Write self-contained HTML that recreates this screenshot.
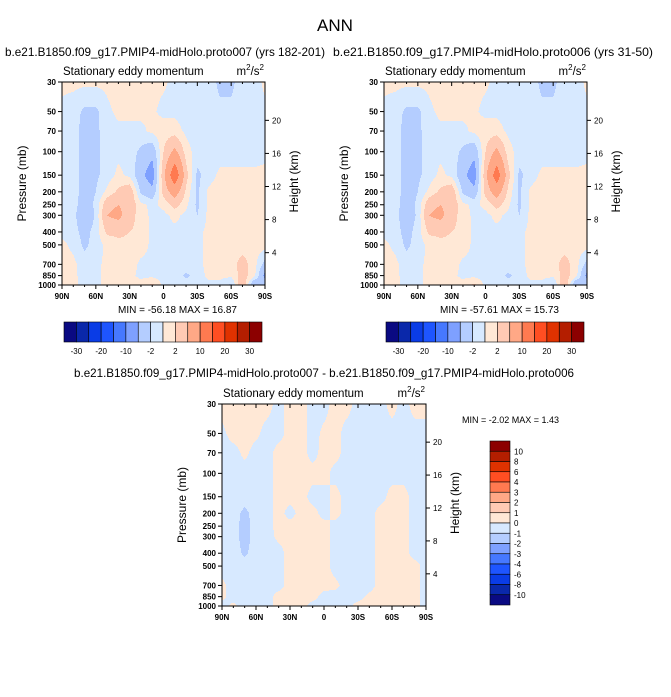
<!DOCTYPE html>
<html><head><meta charset="utf-8">
<style>
body{margin:0;background:#fff;font-family:"Liberation Sans",sans-serif;}
svg text{font-family:"Liberation Sans",sans-serif;fill:#000;}
</style></head>
<body>
<svg id="fig" width="671" height="692" viewBox="0 0 671 692" xmlns="http://www.w3.org/2000/svg">
<rect width="671" height="692" fill="#fff"/>
<text x="335" y="31" font-size="17" text-anchor="middle">ANN</text>
</svg>
<script>
// ---- data ----
const lats = ["90N","80N","70N","60N","50N","40N","30N","20N","10N","0","10S","20S","30S","40S","50S","60S","70S","80S","90S"];
const levels = [30,50,70,100,150,200,250,300,400,500,700,850,1000];
const pTicks = [30,50,70,100,150,200,250,300,400,500,700,850,1000];
const hTicks = [20,16,12,8,4];
const xTickLabels = ["90N","60N","30N","0","30S","60S","90S"];
const topLevels = [-30,-25,-20,-15,-10,-5,-2,0,2,5,10,15,20,25,30];
const topLabels = ["-30","-20","-10","-2","2","10","20","30"];
const diffLevels = [-10,-8,-6,-4,-3,-2,-1,0,1,2,3,4,6,8,10];
const diffLabels = ["10","8","6","4","3","2","1","0","-1","-2","-3","-4","-6","-8","-10"];
const colors = ["#0a0a82","#0a28aa","#0a3ce6","#1e55ff","#4678ff","#7ea0ff","#b4cdff","#d7e9ff","#ffe8d6","#ffcab4","#ffa886","#ff7a50","#ff4e22","#e03200","#b41e00","#8c0000"];

const field1 = [
[0.5,0.5,0.5,0.5,0.5,1,1,0.8,0.5,0.3,-0.5,-1,-1,-1,-2.5,-2.5,-1,-1,0.5],
[-0.5,-1,-2.5,-2.5,-0.5,0.5,0.5,0.5,0.3,-0.5,-0.5,-1,-1,-1,-1.5,-1.5,-1,-1,-0.5],
[-0.5,-1,-3,-2.5,-1,-0.5,-0.5,-0.5,0.5,1,1,-0.5,-1,-1,-1,-1,-1,-1,-0.5],
[-0.5,-1,-3,-2.5,-1,-0.5,-1,-2.5,-4,2,6,1,-1,-1,-1,-1,-1,-1,-0.5],
[-0.5,-1,-3,-2.5,-1,0.5,-0.5,-4,-7,4,14,3,-2.5,-1,0.5,0.5,0.5,0.5,0.5],
[-0.5,-1,-3,-2,0.5,2.5,4,-2.5,-4,3,7,1.5,-2.5,0.5,1,1,1,1,1],
[-0.5,-1,-3.5,-1.5,4,5,4,0.5,-0.5,0.5,3,0.5,-2.5,0.5,1,1,1,1,1],
[-0.5,-1,-5,-1.5,5,6,3,1,-0.5,-0.5,0.5,-0.5,-2,0.5,1,1,1,1,1],
[-0.5,-1,-3,-1,2.5,2.5,2,1.5,-0.5,-0.5,-0.5,-0.5,-0.5,0.5,0.5,1,1,1,1],
[0.5,-0.5,-2.5,-1,0.5,1.5,1.5,1,-0.5,-0.5,-0.5,-0.5,-0.5,0.5,0.5,1,1,1,1],
[0.8,0.5,-1,-0.5,0.5,1,1,-0.5,-0.5,-1,-0.5,-0.5,-0.5,0.5,0.5,1,3,1,-3],
[0.5,0.3,-0.5,-0.5,0.5,1,0.5,-0.5,-0.5,-1,-0.5,-2.5,-1,0.5,0.5,0.5,3,1,-6],
[0.5,0.3,-0.5,-0.5,0.5,1.5,1,0.8,2.5,-0.5,-0.5,-1,-1,-0.5,-0.5,-2.5,5,-5,-3]];

const field2 = [
[0.5,0.5,0.5,0.5,0.5,1,1,0.8,0.5,0.3,-0.5,-1,-1,-1,-2.5,-2.5,-1,-1,0.5],
[-0.5,-1,-2.5,-2.5,-0.5,0.5,0.5,0.5,0.3,-0.5,-0.5,-1,-1,-1,-1.5,-1.5,-1,-1,-0.5],
[-0.5,-1,-3,-2.5,-1,-0.5,-0.5,-0.5,0.5,1,1,-0.5,-1,-1,-1,-1,-1,-1,-0.5],
[-0.5,-1,-3,-2.5,-1,-0.5,-1,-2.5,-4,2,6,1,-1,-1,-1,-1,-1,-1,-0.5],
[-0.5,-1,-3,-2.5,-1,0.5,-0.5,-4,-7,4,13,3,-2.5,-1,0.5,0.5,0.5,0.5,0.5],
[-0.5,-1,-3,-2,0.5,2.5,4,-2.5,-4,3,7,1.5,-2.5,0.5,1,1,1,1,1],
[-0.5,-1,-3.5,-1.5,4,5,4,0.5,-0.5,0.5,3,0.5,-2.5,0.5,1,1,1,1,1],
[-0.5,-1,-4,-1.5,5,6,3,1,-0.5,-0.5,0.5,-0.5,-2,0.5,1,1,1,1,1],
[-0.5,-1,-3,-1,2.5,2.5,2,1.5,-0.5,-0.5,-0.5,-0.5,-0.5,0.5,0.5,1,1,1,1],
[0.5,-0.5,-2.5,-1,0.5,1.5,1.5,1,-0.5,-0.5,-0.5,-0.5,-0.5,0.5,0.5,1,1,1,1],
[0.8,0.5,-1,-0.5,0.5,1,1,-0.5,-0.5,-1,-0.5,-0.5,-0.5,0.5,0.5,1,3,1,-3],
[0.5,0.3,-0.5,-0.5,0.5,1,0.5,-0.5,-0.5,-1,-0.5,-2.5,-1,0.5,0.5,0.5,3,1,-6],
[0.5,0.3,-0.5,-0.5,0.5,1.5,1,0.8,2.5,-0.5,-0.5,-1,-1,-0.5,-0.5,-2.5,5,-5,-3]];

const fieldDiff = [
[.5,.5,.5,.5,.5,-.5,.5,.5,-.5,-.5,.5,.5,-.5,-.5,-.5,.5,-.5,.5,.5],
[-.3,.5,.5,.3,-.5,-.5,.5,.5,-.5,.3,.5,-.5,-.5,-.5,-.5,-.5,-.5,-.5,-.5],
[-.5,-.5,.3,-.5,-.5,.5,.5,.5,-.5,.5,.5,-.5,-.5,-.5,-.5,-.5,-.5,-.5,-.5],
[-.5,-.5,-.5,-.5,-.5,.5,.5,.5,.5,.5,-.5,-.5,-.5,-.5,-.5,-.5,-.5,-.5,-.5],
[-.5,-.5,-.5,-.5,-.5,.5,.5,.5,-.5,-.5,.5,-.5,-.5,-.5,-.5,.5,.5,-.5,-.5],
[-.5,-.5,-1.3,-.5,-.5,.5,-.5,.5,.5,-.5,.5,-.5,-.5,-.5,.5,.5,.5,-.5,-.5],
[-.5,-.5,-1.5,-.5,-.5,.5,.5,.5,.5,.5,-.5,-.5,-.5,-.5,.5,.5,.5,-.5,-.5],
[-.5,-.5,-1.5,-.5,-.5,.3,.5,.5,.5,.5,-.5,-.5,-.5,-.5,.5,.5,.5,-.5,-.5],
[-.5,-.5,-1.2,-.5,-.5,-.5,.5,.5,.5,.5,-.5,-.5,-.5,-.5,.5,.5,.5,-.5,-.5],
[-.5,-.5,-.5,-.5,-.5,-.5,.5,.5,.5,.5,-.5,-.5,-.5,-.5,.5,.5,.5,.5,-.5],
[.3,-.5,-.5,-.5,-.5,-.5,.5,.5,.5,.5,.3,-.5,-.5,-.5,.5,.5,.5,.5,-.5],
[.3,-.5,-.5,-.5,-.5,.5,.5,.5,.5,-.5,-.5,-.5,-.5,.3,.5,.5,.5,.5,-.5],
[-.5,.3,-.5,-.5,-.5,.5,.5,.5,-.5,-.5,-.5,-.5,.5,.5,.5,.5,.5,.5,-.5]];

// ---- drawing ----
const NS="http://www.w3.org/2000/svg";
const svg=document.getElementById('fig');
function mk(tag,attrs,parent){const e=document.createElementNS(NS,tag);for(const k in attrs)e.setAttribute(k,attrs[k]);(parent||svg).appendChild(e);return e;}
function txt(s,attrs,parent){const e=mk('text',attrs,parent);e.textContent=s;return e;}
function colorIdx(v,lv){let i=0;while(i<lv.length&&v>=lv[i])i++;return i;}

function panel(x0,y0,w,h,field,lv,name){
  const g=mk('g',{});
  
  
  const lp0=Math.log(30),lp1=Math.log(1000);
  const yOf=p=>y0+h*(Math.log(p)-lp0)/(lp1-lp0);
  const levY=levels.map(yOf);
  const step=1;
  for(let py=0;py<h;py+=step){
    const yy=y0+py+step/2;
    let k=0;while(k<levY.length-2&&yy>levY[k+1])k++;
    const t=Math.min(1,Math.max(0,(yy-levY[k])/(levY[k+1]-levY[k])));
    let runStart=0,runC=-1;
    for(let px=0;px<=w;px++){
      let c=-2;
      if(px<w){
        const fi=(px+0.5)/w*(lats.length-1);
        const i=Math.min(lats.length-2,Math.floor(fi));const s=fi-i;
        const a=field[k][i]*(1-s)+field[k][i+1]*s;
        const b=field[k+1][i]*(1-s)+field[k+1][i+1]*s;
        c=colorIdx(a*(1-t)+b*t,lv);
      }
      if(c!==runC){
        if(runC>=0){
          const r=mk('rect',{x:x0+runStart,y:y0+py,width:px-runStart+0.3,height:step+0.3,fill:colors[runC]},g);
          
          
        }
        runStart=px;runC=c;
      }
    }
  }
  const ax=mk('g',{stroke:'#000','stroke-width':1,fill:'none'});
  
  
  mk('rect',{x:x0,y:y0,width:w,height:h},ax);
  pTicks.forEach(p=>{const y=yOf(p);mk('line',{x1:x0-4,y1:y,x2:x0,y2:y},ax);
    const t=txt(String(p),{x:x0-6,y:y+3,'font-size':8,'text-anchor':'end','font-weight':'bold'});
    });
  hTicks.forEach(hk=>{const p=1013*Math.exp(-hk/7);const y=yOf(p);mk('line',{x1:x0+w,y1:y,x2:x0+w+4,y2:y},ax);
    const t=txt(String(hk),{x:x0+w+7,y:y+3,'font-size':8});
    });
  for(let i=0;i<=18;i++){const x=x0+w*i/18;const major=i%3===0;
    mk('line',{x1:x,y1:y0+h,x2:x,y2:y0+h+(major?4:2)},ax);mk('line',{x1:x,y1:y0,x2:x,y2:y0+(major?4:2)},ax);}
  xTickLabels.forEach((l,i)=>{const t=txt(l,{x:x0+w*i/6,y:y0+h+14,'font-size':8,'text-anchor':'middle','font-weight':'bold'});
    });
  let t=txt('Pressure (mb)',{x:0,y:0,'font-size':12,'text-anchor':'middle',transform:`translate(${x0-36},${y0+h/2}) rotate(-90)`});
  
  t=txt('Height (km)',{x:0,y:0,'font-size':12,'text-anchor':'middle',transform:`translate(${x0+w+33},${y0+h/2-2}) rotate(-90)`});
  
  t=txt('Stationary eddy momentum',{x:x0+1,y:y0-7,'font-size':11.5});
  
  t=txt('',{x:x0+w-1,y:y0-7,'font-size':11.5,'text-anchor':'end'});
  t.innerHTML='m<tspan dy="-5" font-size="8">2</tspan><tspan dy="5">/s</tspan><tspan dy="-5" font-size="8">2</tspan>';
  
}

function hbar(x0,y0,w,h,labels,name){
  const g=mk('g',{});
  const bw=w/colors.length;
  colors.forEach((c,i)=>{const r=mk('rect',{x:x0+i*bw,y:y0,width:bw,height:h,fill:c,stroke:'#000','stroke-width':0.6},g);
    });
  labels.forEach((l,j)=>{const t=txt(l,{x:x0+(2*j+1)*bw,y:y0+h+12,'font-size':8,'text-anchor':'middle'},g);
    });
}
function vbar(x0,y0,w,h,labels,name){
  const g=mk('g',{});
  const bh=h/colors.length;
  colors.slice().reverse().forEach((c,i)=>{const r=mk('rect',{x:x0,y:y0+i*bh,width:w,height:bh,fill:c,stroke:'#000','stroke-width':0.6},g);
    });
  labels.forEach((l,j)=>{const t=txt(l,{x:x0+w+4,y:y0+(j+1)*bh+3,'font-size':8},g);
    });
}

panel(62,82,203,203,field1,topLevels,'panel-proto007');
panel(384,82,203,203,field2,topLevels,'panel-proto006');
panel(222,404,204,202,fieldDiff,diffLevels,'panel-difference');
hbar(64,322,198,20,topLabels,'colorbar-proto007');
hbar(386,322,198,20,topLabels,'colorbar-proto006');
vbar(490,441,20,164,diffLabels,'colorbar-difference');

const T=[
 ['b.e21.B1850.f09_g17.PMIP4-midHolo.proto007 (yrs 182-201)',5,56,12,320,'panel1-title'],
 ['b.e21.B1850.f09_g17.PMIP4-midHolo.proto006 (yrs 31-50)',333,56,12,320,'panel2-title'],
 ['MIN = -56.18  MAX =  16.87',118,313,10,0,'panel1-minmax'],
 ['MIN = -57.61  MAX =  15.73',440,313,10,0,'panel2-minmax'],
 ['b.e21.B1850.f09_g17.PMIP4-midHolo.proto007 - b.e21.B1850.f09_g17.PMIP4-midHolo.proto006',74,377,12,500,'difference-title'],
 ['MIN =  -2.02  MAX =   1.43',462,423,9,0,'difference-minmax']];
T.forEach(a=>{const at={x:a[1],y:a[2],'font-size':a[3],'xml:space':'preserve'};
  if(a[4]){at.textLength=a[4];at.lengthAdjust='spacingAndGlyphs';}
  const t=txt(a[0],at);
  });
</script>
</body></html>
